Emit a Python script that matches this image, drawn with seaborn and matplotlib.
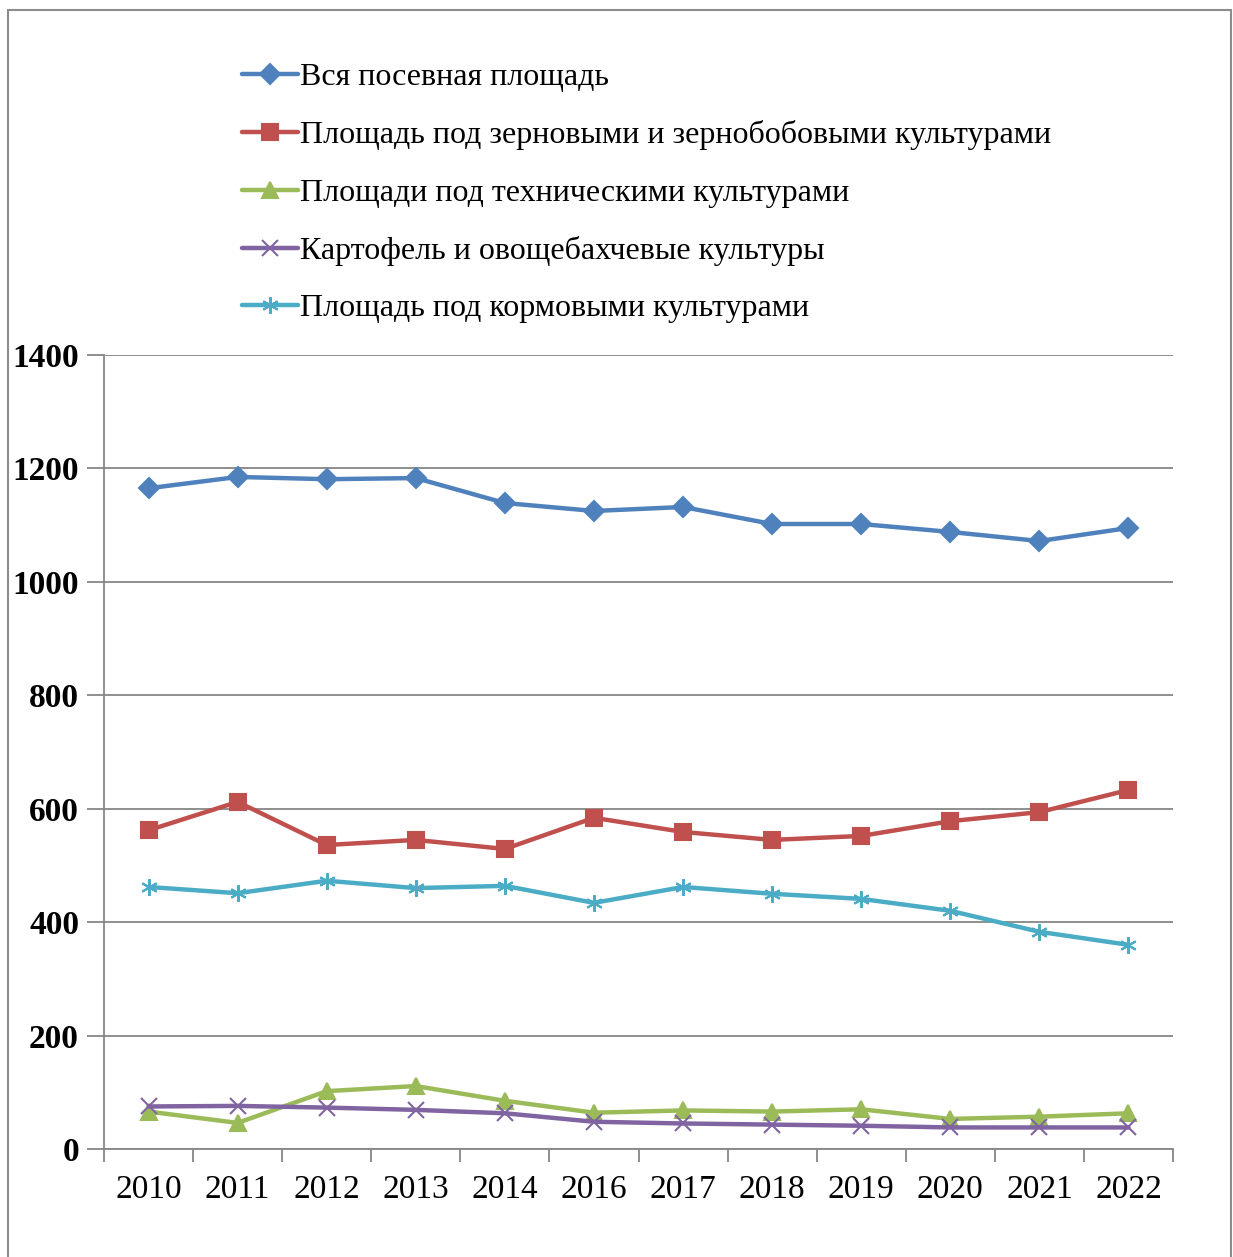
import matplotlib
matplotlib.use("Agg")
import matplotlib.pyplot as plt
from matplotlib.patches import Rectangle
from matplotlib.ticker import FixedLocator
import seaborn as sns
import pandas as pd
import numpy as np

years = ["2010", "2011", "2012", "2013", "2014", "2016", "2017",
         "2018", "2019", "2020", "2021", "2022"]

total = [1165, 1185, 1181, 1183, 1139, 1125, 1132, 1102, 1102, 1088, 1072, 1095]
grain = [562, 612, 536, 545, 529, 584, 559, 545, 552, 578, 594, 633]
technical = [66, 46, 102, 111, 85, 64, 68, 66, 70, 53, 57, 63]
potato = [75, 76, 73, 69, 63, 48, 45, 43, 41, 38, 38, 38]
fodder = [462, 451, 473, 460, 464, 434, 462, 450, 441, 420, 383, 360]

names = [
    "Вся посевная площадь",
    "Площадь под зерновыми и зернобобовыми культурами",
    "Площади под техническими культурами",
    "Картофель и овощебахчевые культуры",
    "Площадь под кормовыми культурами",
]
series = [total, grain, technical, potato, fodder]
colors = ["#4F81BD", "#C0504D", "#9BBB59", "#8064A2", "#4BACC6"]
markers = ["D", "s", "^", "x", (6, 2, 0)]
msizes = [10, 12, 12, 12, 12]

sns.set_theme(style="white")
plt.rcParams["font.family"] = ["Liberation Serif", "DejaVu Serif"]
plt.rcParams["text.color"] = "black"
plt.rcParams["xtick.labelcolor"] = "black"
plt.rcParams["ytick.labelcolor"] = "black"

fig = plt.figure(figsize=(12.33, 12.57), dpi=100)
ax = fig.add_axes([104 / 1233, 108 / 1257, 1069 / 1233, 794 / 1257])

pos = np.arange(len(years))
for name, vals, c, m, ms in zip(names, series, colors, markers, msizes):
    df = pd.DataFrame({"pos": pos, "val": vals})
    sns.lineplot(data=df, x="pos", y="val", ax=ax, color=c, linewidth=3.2,
                 marker=m, markersize=ms, markeredgecolor=c,
                 markeredgewidth=1.5, label=name, legend=False)

ax.set_xlim(-0.5, len(years) - 0.5)
ax.set_ylim(0, 1400)
ax.set_yticks(range(0, 1401, 200))
ax.set_xticks(pos)
ax.set_xticklabels(years, fontsize=24)
ax.xaxis.set_minor_locator(FixedLocator(np.arange(-0.5, len(years), 1)))
ax.tick_params(axis="x", which="major", length=0, pad=18, labelcolor="black")
ax.tick_params(axis="x", which="minor", length=9, width=1.3, color="#868686",
               direction="out", bottom=True)
ax.tick_params(axis="y", length=12, width=1.3, color="#868686",
               direction="out", left=True, pad=6, labelcolor="black")
for lab in ax.get_yticklabels():
    lab.set_fontweight("bold")
    lab.set_fontsize(24)
ax.set_xlabel("")
ax.set_ylabel("")

ax.grid(axis="y", color="#868686", linewidth=1.3)
ax.grid(axis="x", visible=False)
for s in ["top", "right"]:
    ax.spines[s].set_visible(False)
for s in ["left", "bottom"]:
    ax.spines[s].set_color("#868686")
    ax.spines[s].set_linewidth(1.3)

h, l = ax.get_legend_handles_labels()
leg = fig.legend(h, l, loc="upper left",
                 bbox_to_anchor=(213 / 1233, 1 - 34 / 1257),
                 frameon=False, fontsize=23, handlelength=1.75,
                 handletextpad=0.06, labelspacing=0.88)
for t in leg.get_texts():
    t.set_color("black")

fig.patches.append(Rectangle((8 / 1233, -0.02), 1223 / 1233, 1.02 - 10 / 1257,
                             transform=fig.transFigure, fill=False,
                             edgecolor="#8c8c8c", linewidth=1.5))

fig.savefig("out.png", dpi=100)
